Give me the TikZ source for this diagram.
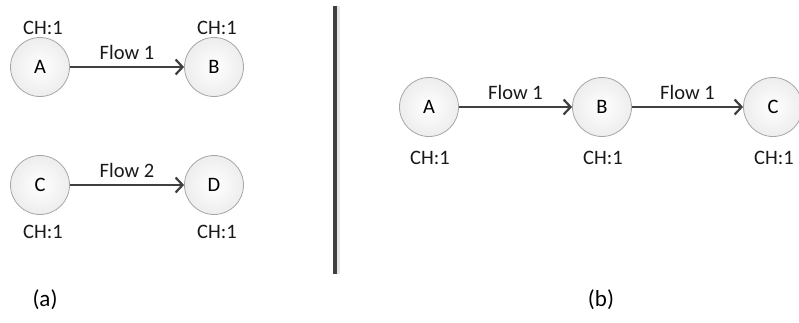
\documentclass[tikz,border=0pt]{standalone}
\usepackage{fontspec}
\setmainfont{Carlito}
\usetikzlibrary{arrows.meta}
\begin{document}
\begin{tikzpicture}[x=1pt,y=-1pt,
  font=\fontsize{20.5}{22}\selectfont,
  station/.style={circle,minimum size=59pt,inner sep=0pt,draw=gray!70,line width=0.8pt,
    inner color=white,outer color=gray!14},
  flowarrow/.style={draw=black!75,line width=2.6pt,-{Straight Barb[length=7pt,width=15pt,line width=2.2pt]}},
  lbl/.style={inner sep=0pt,text=black!90},
  caption/.style={inner sep=0pt,font=\fontsize{23}{25}\selectfont}]
\useasboundingbox (0,0) rectangle (799,322);
% part (a): two independent flows
\node[station] (aA) at (40,67) {A};
\node[station] (aB) at (214,67) {B};
\node[station] (aC) at (40,185) {C};
\node[station] (aD) at (214,185) {D};
\node[lbl] (chA) at (43,28) {CH:1};
\node[lbl] (chB) at (217,28) {CH:1};
\node[lbl] (chC) at (43,232) {CH:1};
\node[lbl] (chD) at (217,232) {CH:1};
\draw[flowarrow] (aA) -- node[lbl,above=6pt] (fa1) {Flow 1} (aB);
\draw[flowarrow] (aC) -- node[lbl,above=6pt] (fa2) {Flow 2} (aD);
% divider with a soft shadow
\coordinate (dtop) at (335,6);
\coordinate (dbot) at (335,274);
\draw[gray!20,line width=3pt] ([xshift=3pt]dtop) -- ([xshift=3pt]dbot);
\draw[black!75,line width=3.5pt] (dtop) -- (dbot);
% part (b): one flow relayed through B
\node[station] (bA) at (429,107) {A};
\node[station] (bB) at (602,107) {B};
\node[station] (bC) at (773,107) {C};
\node[lbl] (chbA) at (430,158) {CH:1};
\node[lbl] (chbB) at (603,158) {CH:1};
\node[lbl] (chbC) at (774,158) {CH:1};
\draw[flowarrow] (bA) -- node[lbl,above=6pt] (fb1) {Flow 1} (bB);
\draw[flowarrow] (bB) -- node[lbl,above=6pt] (fb2) {Flow 1} (bC);
% captions
\node[caption] (capa) at (45,300) {(a)};
\node[caption] (capb) at (601,300) {(b)};
\end{tikzpicture}
\end{document}
